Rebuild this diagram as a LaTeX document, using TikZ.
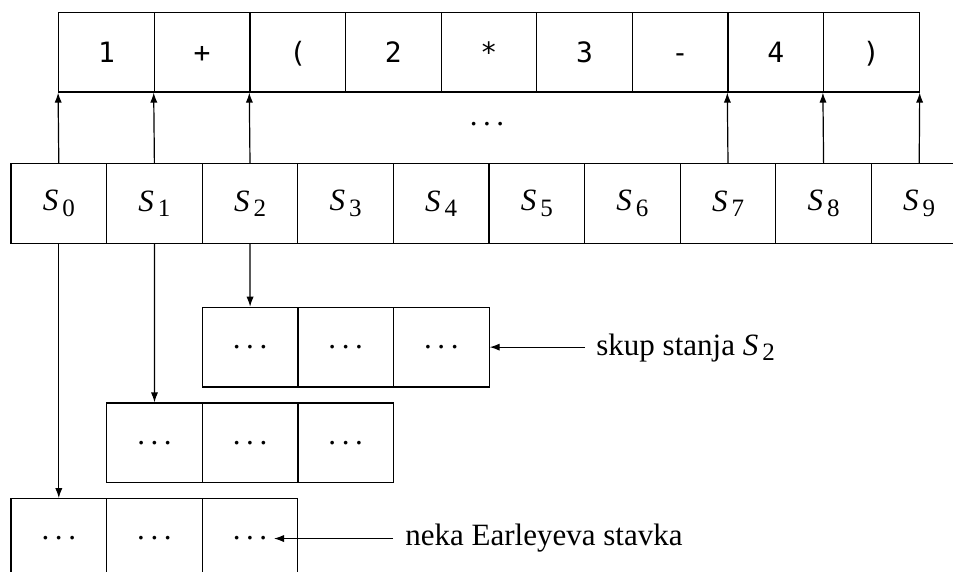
\documentclass[tikz,border=0pt]{standalone}
\usepackage{fontspec}
\setmainfont{Liberation Serif}
\setmonofont{DejaVu Sans Mono}
\usetikzlibrary{arrows.meta}
\newcommand{\Sn}[1]{\textit{S}\kern2pt\raisebox{-2.8pt}{\normalfont\fontsize{12.5pt}{13pt}\selectfont #1}}
\newcommand{\dd}{.\kern2.8pt.\kern2.8pt.}
\tikzset{
  cell/.style={draw, rectangle, minimum width=47.8pt, minimum height=39.85pt, inner sep=0pt, line width=0.6pt, font=\fontsize{15.5pt}{18pt}\selectfont},
  tok/.style={cell, font=\ttfamily\fontsize{14pt}{17pt}\selectfont, text height=10.2pt, text depth=0pt},
  conn/.style={line width=0.6pt, -{Latex[length=5pt, width=3.6pt]}},
  lbl/.style={inner sep=0pt, font=\fontsize{15.5pt}{18pt}\selectfont}
}
\begin{document}
\begin{tikzpicture}[x=0.5pt, y=-0.5pt]
\useasboundingbox (0,0) rectangle (953,572);
% top row of tokens
\node[tok] (t1) at ({58.7+95.6*0.5}, 52.15) {1};
\node[tok] (t2) at ({58.7+95.6*1.5}, 52.15) {+};
\node[tok] (t3) at ({58.7+95.6*2.5}, 52.15) {(};
\node[tok] (t4) at ({58.7+95.6*3.5}, 52.15) {2};
\node[tok] (t5) at ({58.7+95.6*4.5}, 52.15) {*};
\node[tok] (t6) at ({58.7+95.6*5.5}, 52.15) {3};
\node[tok] (t7) at ({58.7+95.6*6.5}, 52.15) {-};
\node[tok] (t8) at ({58.7+95.6*7.5}, 52.15) {4};
\node[tok] (t9) at ({58.7+95.6*8.5}, 52.15) {)};
% state sets row
\foreach \i in {0,...,9} {
  \node[cell] (s\i) at ({11+95.6*(\i+0.5)}, 203.55) {\Sn{\i}};
}
% set S2
\foreach \i in {1,2,3} {
  \node[cell] (a\i) at ({202.3+95.6*(\i-0.5)}, 347.15) {\dd};
}
% set S1
\foreach \i in {1,2,3} {
  \node[cell] (b\i) at ({106.7+95.6*(\i-0.5)}, 442.85) {\dd};
}
% set S0
\foreach \i in {1,2,3} {
  \node[cell] (c\i) at ({11+95.6*(\i-0.5)}, 538.55) {\dd};
}
% up arrows
\draw[conn] (s0.north) -- (t1.south west);
\draw[conn] (s1.north) -- (t2.south west);
\draw[conn] (s2.north) -- (t3.south west);
\draw[conn] (s7.north) -- (t8.south west);
\draw[conn] (s8.north) -- (t9.south west);
\draw[conn] (s9.north) -- (t9.south east);
\node[lbl] (mid) at (487,124) {\dd};
% down arrows
\draw[conn] (s0.south) -- (c1.north);
\draw[conn] (s1.south) -- (b1.north);
\draw[conn] (s2.south) -- (a1.north);
% labels
\node[lbl, anchor=base west] (l1) at (596,355) {skup stanja \Sn{2}};
\coordinate (l1a) at (585,347.15);
\draw[conn] (l1a) -- (a3.east);
\node[lbl, anchor=base west] (l2) at (405,545) {neka Earleyeva stavka};
\coordinate (l2a) at (393,538.55);
\coordinate (l2b) at (274,538.55);
\draw[conn] (l2a) -- (l2b);
\end{tikzpicture}
\end{document}
